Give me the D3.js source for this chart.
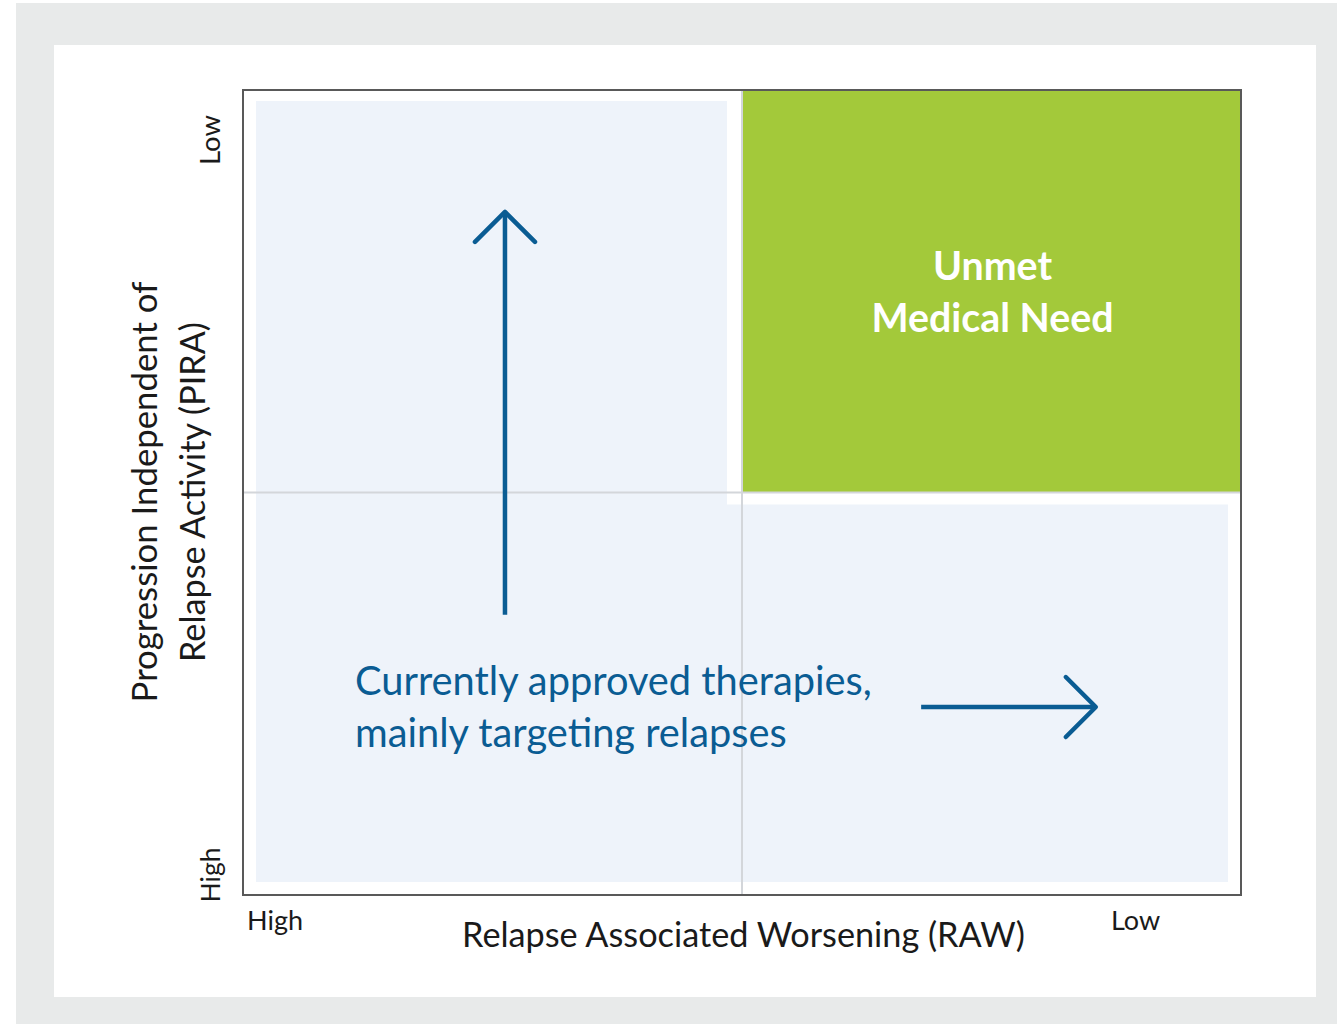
<!DOCTYPE html>
<html>
<head>
<meta charset="utf-8">
<script src="https://cdn.jsdelivr.net/npm/d3@7/dist/d3.min.js"></script>
<style>
  html, body { margin: 0; padding: 0; background: #ffffff; }
  svg { display: block; }
  text { font-family: Lato, "Open Sans", sans-serif; }
</style>
</head>
<body>
<svg id="chart" width="1337" height="1024"></svg>
<script>
// ---- data ----
const xLevels = ["High", "Low"];          // RAW axis, left to right
const yLevels = ["High", "Low"];          // PIRA axis, bottom to top
const xTitle = "Relapse Associated Worsening (RAW)";
const yTitle = ["Progression Independent of", "Relapse Activity (PIRA)"];
const unmetLabel = ["Unmet", "Medical Need"];
const therapyLabel = ["Currently approved therapies,", "mainly targeting relapses"];
const unmetQuadrant = { x: 1, y: 1 };     // quadrant index (Low RAW, Low PIRA)
// arrows in domain units (0..2 on each axis)
const arrowUp = { x0: 0.525, y0: 0.696, x1: 0.525, y1: 1.697 };
const arrowRight = { x0: 1.359, y0: 0.467, x1: 1.709, y1: 0.467 };

// ---- layout ----
const svg = d3.select("#chart");
const W = 1337, H = 1024;
const x = d3.scaleLinear().domain([0, xLevels.length]).range([243, 1241]);
const y = d3.scaleLinear().domain([0, yLevels.length]).range([895, 90]);

const C = {
  outer: "#e8eaea", panel: "#ffffff", zone: "#eef3fa", green: "#a3c93a",
  grid: "#d3d6da", frame: "#595959", blue: "#0a5c93", text: "#1a1a1a"
};

// outer gray background and white panel
svg.append("rect").attr("x", 16).attr("y", 3).attr("width", W - 16).attr("height", H - 3).attr("fill", C.outer);
svg.append("rect").attr("x", 54).attr("y", 45).attr("width", 1316 - 54).attr("height", 997 - 45).attr("fill", C.panel);

// light-blue zones (L shape covering the three non-target quadrants)
const inset = 13;
svg.append("rect")
  .attr("x", x(0) + inset).attr("y", y(2) + 11)
  .attr("width", x(1) - 15 - (x(0) + inset))
  .attr("height", y(0) - 13 - (y(2) + 11))
  .attr("fill", C.zone);
svg.append("rect")
  .attr("x", x(0) + inset).attr("y", y(1) + 12)
  .attr("width", x(2) - inset - (x(0) + inset))
  .attr("height", y(0) - 13 - (y(1) + 12))
  .attr("fill", C.zone);

// green unmet need quadrant
svg.append("rect")
  .attr("x", x(unmetQuadrant.x) + 1).attr("y", y(unmetQuadrant.y + 1))
  .attr("width", x(unmetQuadrant.x + 1) - x(unmetQuadrant.x) - 1)
  .attr("height", y(unmetQuadrant.y) - y(unmetQuadrant.y + 1))
  .attr("fill", C.green);

// gridlines at quadrant boundaries
svg.append("line").attr("x1", x(1)).attr("x2", x(1)).attr("y1", y(0)).attr("y2", y(2))
  .attr("stroke", C.grid).attr("stroke-width", 2);
svg.append("line").attr("x1", x(0)).attr("x2", x(2)).attr("y1", y(1)).attr("y2", y(1))
  .attr("stroke", C.grid).attr("stroke-width", 2);

// frame
svg.append("rect").attr("x", x(0)).attr("y", y(2)).attr("width", x(2) - x(0)).attr("height", y(0) - y(2))
  .attr("fill", "none").attr("stroke", C.frame).attr("stroke-width", 2);

// helper: fit text to target width
function fit(sel, target) {
  const base = parseFloat(sel.attr("font-size"));
  const w = sel.node().getComputedTextLength();
  sel.attr("font-size", base * target / w);
  return sel;
}

// arrows
function arrow(a, head) {
  const g = svg.append("g").attr("stroke", C.blue).attr("fill", "none")
    .attr("stroke-width", 4.5).attr("stroke-linecap", "round").attr("stroke-linejoin", "round");
  g.append("line").attr("x1", x(a.x0)).attr("y1", y(a.y0)).attr("x2", x(a.x1)).attr("y2", y(a.y1))
    .attr("stroke-linecap", "butt");
  const tx = x(a.x1), ty = y(a.y1);
  const dx = x(a.x1) - x(a.x0), dy = y(a.y1) - y(a.y0);
  const len = Math.hypot(dx, dy), ux = dx / len, uy = dy / len;
  const px = -uy, py = ux;
  g.append("path").attr("d",
    `M${tx - ux * head + px * head},${ty - uy * head + py * head} L${tx},${ty} L${tx - ux * head - px * head},${ty - uy * head - py * head}`);
}
arrow(arrowUp, 30);
arrow(arrowRight, 30);

// unmet label
const cx = (x(unmetQuadrant.x) + x(unmetQuadrant.x + 1)) / 2 + 1;
const u1 = svg.append("text").attr("x", cx).attr("y", 280).attr("text-anchor", "middle")
  .attr("fill", "#ffffff").attr("font-weight", "bold").attr("font-size", 36).text(unmetLabel[0]);
const u2 = svg.append("text").attr("x", cx).attr("y", 332).attr("text-anchor", "middle")
  .attr("fill", "#ffffff").attr("font-weight", "bold").attr("font-size", 36).text(unmetLabel[1]);
fit(u2, 242);
u1.attr("font-size", u2.attr("font-size"));

// therapy label
const t1 = svg.append("text").attr("x", 355).attr("y", 695).attr("fill", C.blue)
  .attr("font-size", 36).text(therapyLabel[0]);
fit(t1, 517);
svg.append("text").attr("x", 355).attr("y", 747).attr("fill", C.blue)
  .attr("font-size", t1.attr("font-size")).text(therapyLabel[1]);

// x axis tick labels
const xt1 = svg.append("text").attr("x", 247).attr("y", 930).attr("fill", C.text)
  .attr("font-size", 28).text(xLevels[0]);
fit(xt1, 56);
svg.append("text").attr("x", 1111).attr("y", 930).attr("fill", C.text)
  .attr("font-size", xt1.attr("font-size")).text(xLevels[1]);

// x axis title
const xtl = svg.append("text").attr("x", 743.5).attr("y", 947).attr("text-anchor", "middle")
  .attr("fill", C.text).attr("font-size", 32).text(xTitle);
fit(xtl, 563);

// y axis tick labels (rotated)
const ytLow = svg.append("text").attr("transform", "translate(220,140) rotate(-90)")
  .attr("text-anchor", "middle").attr("fill", C.text).attr("font-size", 28).text(yLevels[1]);
fit(ytLow, 50);
const ytHigh = svg.append("text").attr("transform", "translate(220,875) rotate(-90)")
  .attr("text-anchor", "middle").attr("fill", C.text).attr("font-size", 28).text(yLevels[0]);
fit(ytHigh, 55);

// y axis title (two lines)
const yl1 = svg.append("text").attr("transform", "translate(157,492) rotate(-90)")
  .attr("text-anchor", "middle").attr("fill", C.text).attr("font-size", 32).text(yTitle[0]);
fit(yl1, 421);
const yl2 = svg.append("text").attr("transform", "translate(205,492) rotate(-90)")
  .attr("text-anchor", "middle").attr("fill", C.text).attr("font-size", 32).text(yTitle[1]);
fit(yl2, 340);
</script>
</body>
</html>
